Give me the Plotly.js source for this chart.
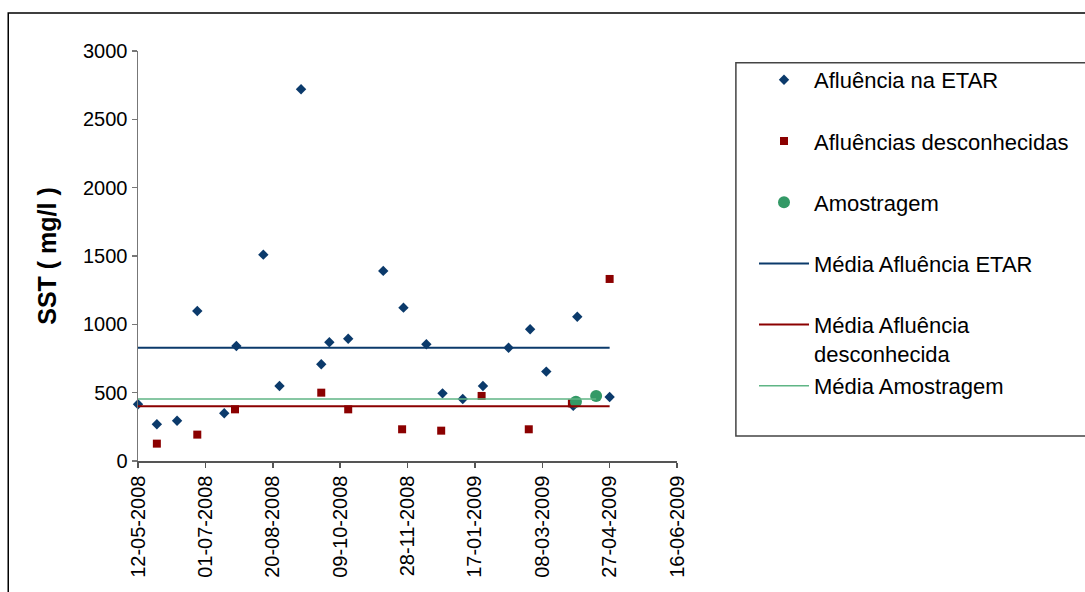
<!DOCTYPE html>
<html>
<head>
<meta charset="utf-8">
<script src="https://cdn.plot.ly/plotly-3.0.1.min.js"></script>
<style>html,body{margin:0;padding:0;background:#fff;} #chart{width:1085px;height:592px;}</style>
</head>
<body>
<div id="chart"></div>
<script>
// Afluência na ETAR
const etarDates = ['2008-05-12','2008-05-26','2008-06-10','2008-06-25','2008-07-15','2008-07-24','2008-08-13','2008-08-25','2008-09-10','2008-09-25','2008-10-01','2008-10-15','2008-11-10','2008-11-25','2008-12-12','2008-12-24','2009-01-08','2009-01-23','2009-02-11','2009-02-27','2009-03-11','2009-03-31','2009-04-03','2009-04-27'];
const etarValues = [415,269,295,1098,349,842,1510,549,2720,708,869,895,1391,1122,854,495,454,549,829,964,654,403,1056,468];
// Afluências desconhecidas
const descDates = ['2008-05-26','2008-06-25','2008-07-23','2008-09-25','2008-10-15','2008-11-24','2008-12-23','2009-01-22','2009-02-26','2009-03-30','2009-04-27'];
const descValues = [127,193,378,500,378,232,222,476,232,422,1332];
// Amostragem
const amostDates = ['2009-04-02','2009-04-17'];
const amostValues = [434,476];
// Means
const mediaEtar = 829;
const mediaDesc = 400;
const mediaAmost = 454;
const mediaStart = '2008-05-12';
const mediaEnd = '2009-04-27';
const mediaAmostEnd = '2009-04-17';
// Axis ticks
const tickDates = ['2008-05-12','2008-07-01','2008-08-20','2008-10-09','2008-11-28','2009-01-17','2009-03-08','2009-04-27','2009-06-16'];
const tickLabels = ['12-05-2008','01-07-2008','20-08-2008','09-10-2008','28-11-2008','17-01-2009','08-03-2009','27-04-2009','16-06-2009'];
const yTicks = [0,500,1000,1500,2000,2500,3000];

const FONT = 'Liberation Sans, Arial, sans-serif';

const traces = [
  {x: etarDates, y: etarValues, type:'scatter', mode:'markers', name:'Afluência na ETAR<br> ', cliponaxis:false,
   legendgroup:'a', marker:{symbol:'diamond', size:8, color:'#0b3a6b'}},
  {x: descDates, y: descValues, type:'scatter', mode:'markers', name:'Afluências desconhecidas<br> ', cliponaxis:false,
   legendgroup:'b', marker:{symbol:'square', size:8, color:'#8b0000'}},
  {x: amostDates, y: amostValues, type:'scatter', mode:'markers', name:'Amostragem<br> ', cliponaxis:false,
   legendgroup:'c', marker:{symbol:'circle', size:12, color:'#339966'}},
  {x: [mediaStart, mediaEnd], y: [mediaEtar, mediaEtar], type:'scatter', mode:'lines', name:'Média Afluência ETAR<br> ',
   legendgroup:'d', line:{color:'#0b3a6b', width:2}},
  {x: [mediaStart, mediaEnd], y: [mediaDesc, mediaDesc], type:'scatter', mode:'lines', name:'Média Afluência<br>desconhecida',
   legendgroup:'e', line:{color:'#8b0000', width:2}},
  {x: [mediaStart, mediaAmostEnd], y: [mediaAmost, mediaAmost], type:'scatter', mode:'lines', name:'Média Amostragem<br> ',
   legendgroup:'f', line:{color:'#5fb585', width:1.5}}
];

const L = 138, R = 407, T = 51, B = 131;
const PW = 1085 - L - R, PH = 592 - T - B;
function px(x){ return (x - L) / PW; }
function py(y){ return (592 - B - y) / PH; }

const layout = {
  width: 1085, height: 592,
  margin: {l: L, r: R, t: T, b: B, pad: 0},
  paper_bgcolor: '#ffffff', plot_bgcolor: '#ffffff',
  font: {family: FONT, size: 20, color: '#000'},
  showlegend: true,
  legend: {
    x: px(754), xanchor: 'left', y: py(59), yanchor: 'top',
    bgcolor: 'rgba(0,0,0,0)', borderwidth: 0,
    font: {family: FONT, size: 22, color: '#000'},
    traceorder: 'grouped', tracegroupgap: 1, valign: 'top', itemwidth: 50
  },
  xaxis: {
    type: 'date', range: [tickDates[0], tickDates[tickDates.length-1]],
    tickmode: 'array', tickvals: tickDates, ticktext: tickLabels,
    tickangle: -90, ticks: 'outside', ticklen: 5, tickcolor: '#555', tickwidth: 1.5,
    showline: true, linecolor: '#555', linewidth: 1.5, showgrid: false, zeroline: false,
    tickfont: {family: FONT, size: 20, color: '#000'}
  },
  yaxis: {
    range: [0, 3000], tickmode: 'array', tickvals: yTicks,
    ticks: 'outside', ticklen: 5, tickcolor: '#777', tickwidth: 1.5,
    showline: true, linecolor: '#777', linewidth: 1.5, showgrid: false, zeroline: false,
    tickfont: {family: FONT, size: 20, color: '#000'},
    title: {text: 'SST ( mg/l )', font: {family: FONT, size: 25, color: '#000', weight: 'bold'}, standoff: 19}
  },
  shapes: [
    {type:'rect', xref:'paper', yref:'paper', x0: px(8), x1: px(1100), y0: py(610), y1: py(13),
     line:{color:'#000', width:1.5}, fillcolor:'rgba(0,0,0,0)', layer:'below'},
    {type:'rect', xref:'paper', yref:'paper', x0: px(737), x1: px(1100), y0: py(436), y1: py(62.7),
     line:{color:'#444', width:1.5}, fillcolor:'rgba(0,0,0,0)', layer:'below'}
  ]
};

Plotly.newPlot('chart', traces, layout, {displayModeBar: false, staticPlot: true});
</script>
</body>
</html>
